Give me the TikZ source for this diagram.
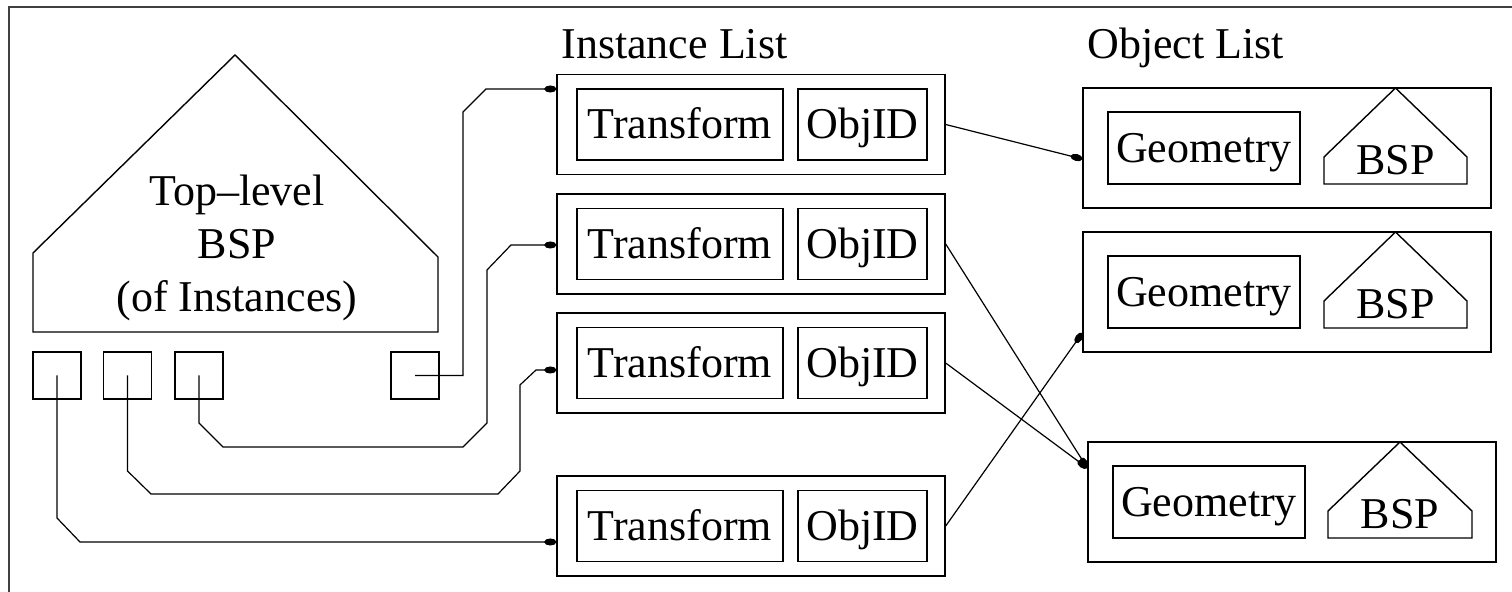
\documentclass[tikz,border=0pt]{standalone}
\usepackage{fontspec}
\setmainfont{Liberation Serif}
\usetikzlibrary{arrows.meta}
\tikzset{outerbox/.style={draw,line width=0.7pt,minimum width=194pt,minimum height=50pt,inner sep=0pt}}
\tikzset{trbox/.style={draw,line width=0.7pt,minimum width=103pt,minimum height=35.5pt,inner sep=0pt,text height=14.5pt,text depth=0pt}}
\tikzset{idbox/.style={draw,line width=0.7pt,minimum width=64.5pt,minimum height=35.5pt,inner sep=0pt,text height=14.5pt,text depth=0pt}}
\tikzset{obbox/.style={draw,line width=0.7pt,minimum width=204pt,minimum height=60pt,inner sep=0pt}}
\tikzset{geobox/.style={draw,line width=0.7pt,minimum width=96pt,minimum height=36pt,inner sep=0pt,text height=14.5pt,text depth=0pt}}
\tikzset{port/.style={draw,line width=0.7pt,minimum width=24pt,minimum height=23.5pt,inner sep=0pt}}
\tikzset{house/.style={line width=0.7pt}}
\tikzset{link/.style={line width=0.6pt,-{Ellipse[length=6pt,width=3.5pt]}}}

\begin{document}
\begin{tikzpicture}[x=0.5pt,y=-0.5pt,font=\fontsize{22}{26.5}\selectfont]
            \useasboundingbox (0,0) rectangle (1512,592);
            \draw[line width=1pt,black!75] (9,592) -- (9,7) -- (1512,7);
            % top-level BSP
            \draw[house] (33,332) -- (33,253) -- (235,55) -- (438,257) -- (438,332) -- cycle;
            \node[align=center] (top) at (237,248) {Top--level\\BSP\\(of Instances)};
            \node[port] (b1) at (57,375.5) {};
            \node[port] (b2) at (127.5,375.5) {};
            \node[port] (b3) at (199,375.5) {};
            \node[port] (b4) at (415,375.5) {};
            % instance list
            \node[anchor=base west,inner sep=0pt] (inlabel) at (561,59) {Instance List};
            \node[outerbox] (in1) at (751,124.5) {};
            \node[trbox] (tr1) at (680,124.5) {Transform};
            \node[idbox] (id1) at (862.5,124.5) {ObjID};
            \node[outerbox] (in2) at (751,244) {};
            \node[trbox] (tr2) at (680,244) {Transform};
            \node[idbox] (id2) at (862.5,244) {ObjID};
            \node[outerbox] (in3) at (751,363) {};
            \node[trbox] (tr3) at (680,363) {Transform};
            \node[idbox] (id3) at (862.5,363) {ObjID};
            \node[outerbox] (in4) at (751,526) {};
            \node[trbox] (tr4) at (680,526) {Transform};
            \node[idbox] (id4) at (862.5,526) {ObjID};
            % object list
            \node[anchor=base west,inner sep=0pt] (oblabel) at (1087,59) {Object List};
            \node[obbox] (ob1) at (1287,148) {};
            \node[geobox] (g1) at (1204,148) {Geometry};
            \draw[house] (1324,184) -- (1324,157) -- (1395.5,88) -- (1467,157) -- (1467,184) -- cycle;
            \node (bsp1) at (1395.5,160) {BSP};
            \node[obbox] (ob2) at (1287,292) {};
            \node[geobox] (g2) at (1204,292) {Geometry};
            \draw[house] (1324,328) -- (1324,301) -- (1395.5,232) -- (1467,301) -- (1467,328) -- cycle;
            \node (bsp2) at (1395.5,304) {BSP};
            \node[obbox] (ob3) at (1292,502) {};
            \node[geobox] (g3) at (1209,502) {Geometry};
            \draw[house] (1328,538) -- (1328,511) -- (1400,442) -- (1472,511) -- (1472,538) -- cycle;
            \node (bsp3) at (1400,514) {BSP};
            % links to instances
            \draw[link] (b4.center) -- (463,375.5) -- (463,112) -- (486,89) -- (in1.west |- 0,89);
            \draw[link] (b3.center) -- (199,423) -- (223,447) -- (463,447) -- (487,423) -- (487,270) -- (511,245) -- (in2.west |- 0,245);
            \draw[link] (b2.center) -- (127.5,471) -- (151,494) -- (498,494) -- (520,471) -- (520,385) -- (536,370) -- (in3.west |- 0,370);
            \draw[link] (b1.center) -- (57,518) -- (80,542) -- (in4.west |- 0,542);
            % links to objects
            \draw[link] (in1.east) -- (ob1.west |- 0,159);
            \draw[link] (in2.east) -- (ob3.west |- 0,468);
            \draw[link] (in3.east) -- (ob3.west |- 0,468);
            \draw[link] (in4.east) -- (ob2.west |- 0,333);
        \end{tikzpicture}
\end{document}
